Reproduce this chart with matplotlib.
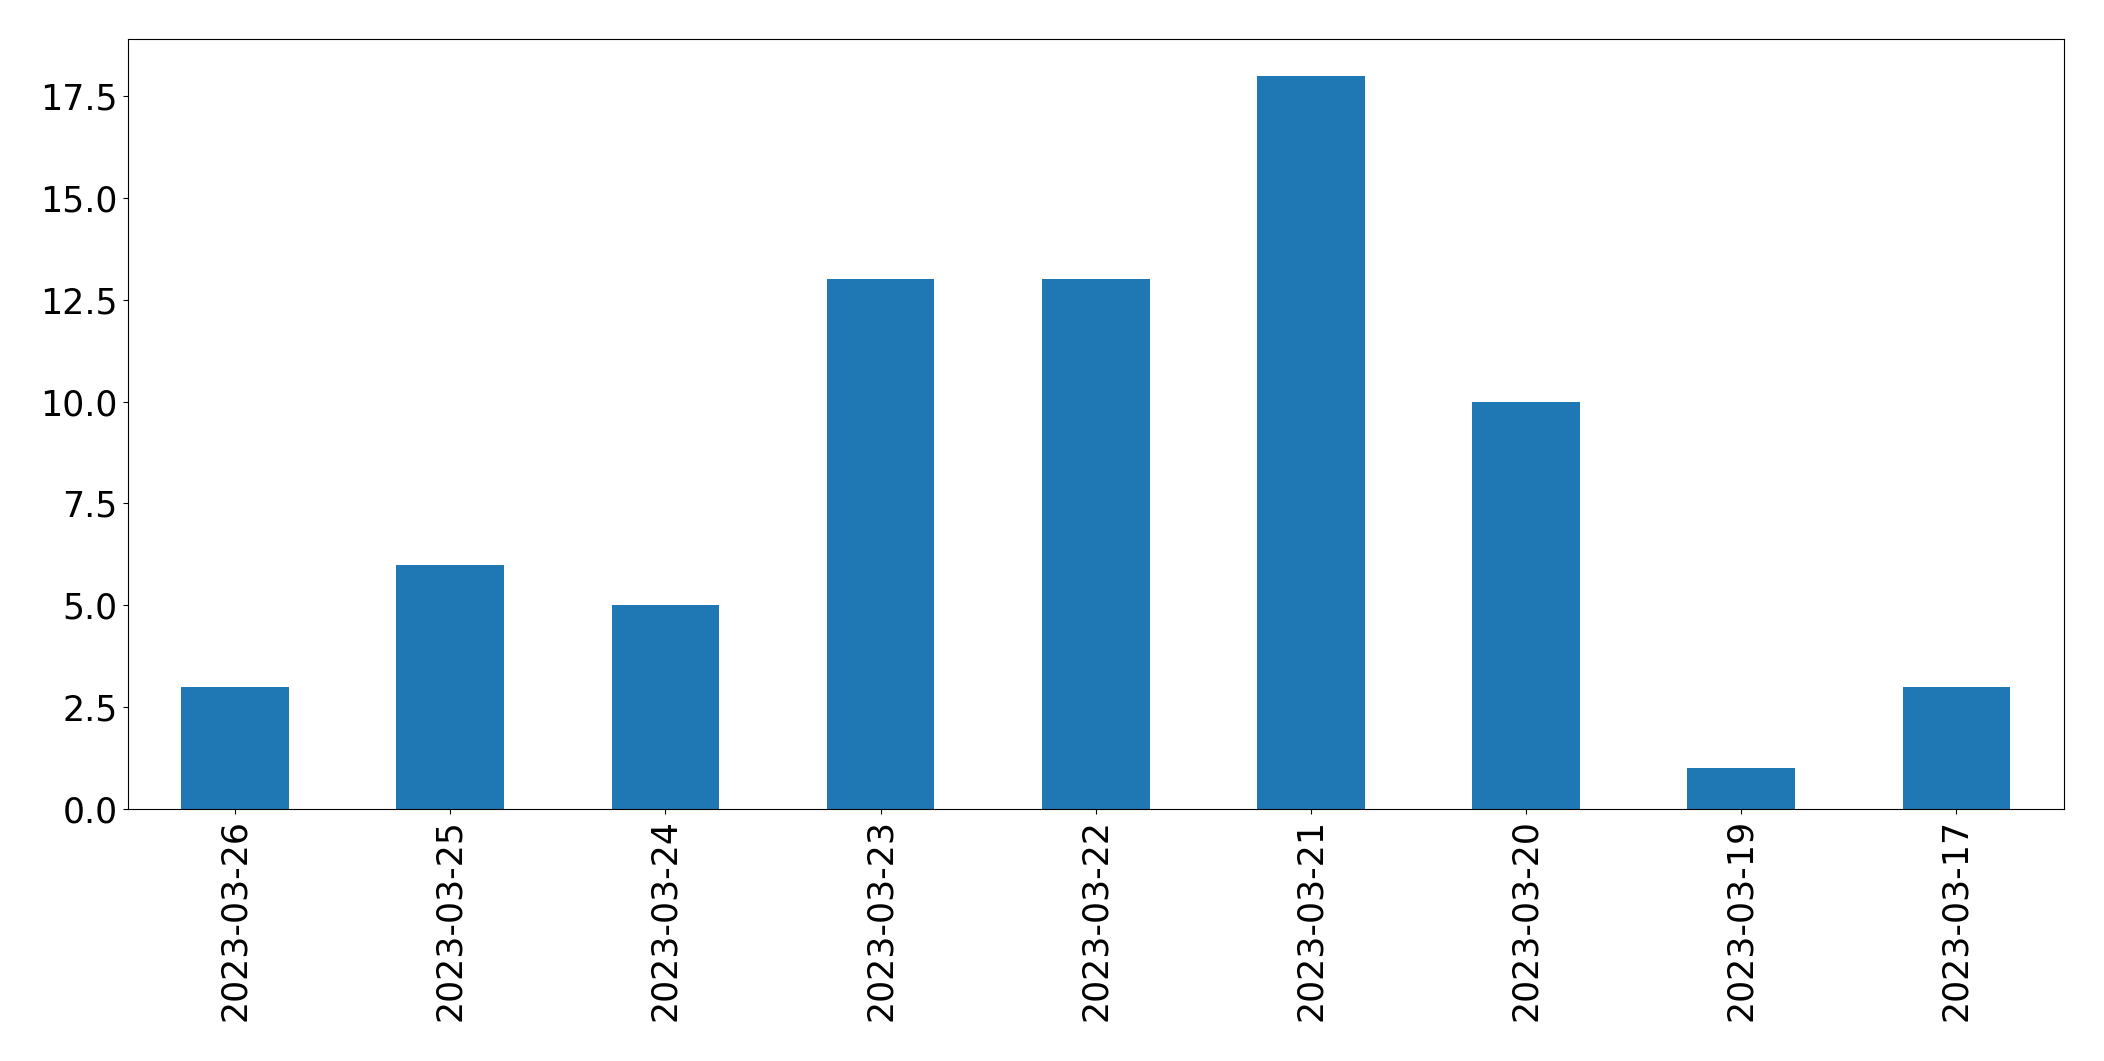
import pandas as pd
from matplotlib import pyplot as plt


dates = ['2023-03-26', '2023-03-25', '2023-03-24', '2023-03-23', '2023-03-22',
         '2023-03-21', '2023-03-20', '2023-03-19', '2023-03-17']
counts = [3, 6, 5, 13, 13, 18, 10, 1, 3]

series = pd.Series(counts, index=dates)

fig, ax = plt.subplots(figsize=(21.04, 10.61), dpi=100)
series.plot(kind='bar', ax=ax, color='#1f77b4')

ax.tick_params(axis='both', labelsize=25)
fig.subplots_adjust(left=0.0606, right=0.981, top=0.9632, bottom=0.2375)

fig.savefig('out.png', dpi=100)
